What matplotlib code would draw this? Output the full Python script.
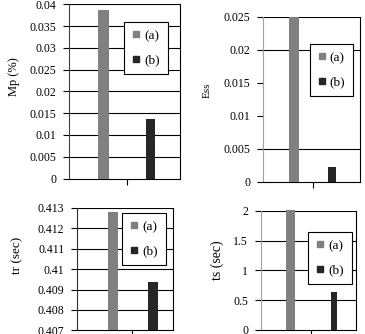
import matplotlib.pyplot as plt
from matplotlib.lines import Line2D
from matplotlib.ticker import FormatStrFormatter

plt.rcParams['font.family'] = ['Liberation Serif', 'DejaVu Serif']
plt.rcParams['font.size'] = 8.5

W, H = 365, 334

# values: series (a) and (b) for each measure
series = ['(a)', '(b)']
colors = ['#808080', '#262626']
mp = [0.0387, 0.0137]
ess = [0.0250, 0.0022]
tr = [0.41282, 0.40939]
ts = [2.02, 0.64]

mp_ticks = [0, 0.005, 0.01, 0.015, 0.02, 0.025, 0.03, 0.035, 0.04]
ess_ticks = [0, 0.005, 0.01, 0.015, 0.02, 0.025]
tr_ticks = [0.407, 0.408, 0.409, 0.41, 0.411, 0.412, 0.413]
ts_ticks = [0, 0.5, 1, 1.5, 2]

fig = plt.figure(figsize=(W / 100, H / 100), dpi=100)


def px_axes(l, t, r, b):
    return fig.add_axes([l / W, 1 - b / H, (r - l) / W, (b - t) / H])


# rect (px), bar x positions, bar widths, right x limit, legend box centre,
# y-label centre and size, gridline values, left spine colour
panels = [
    dict(vals=mp, ticks=mp_ticks, label='Mp (%)', rect=(69, 4.3, 180, 178.5),
         xs=(0.59, 1.40), ws=(0.19, 0.16), xmax=1.90,
         leg=(146, 48), lab=(13.5, 77), labsize=9, grid=mp_ticks[1:],
         spine='#404040'),
    dict(vals=ess, ticks=ess_ticks, label='Ess', rect=(263, 16.7, 360, 181.7),
         xs=(0.62, 1.37), ws=(0.20, 0.155), xmax=1.93,
         leg=(331.5, 70), lab=(207, 90), labsize=8, grid=[0.005, 0.02, 0.025],
         spine='#a0a0a0'),
    dict(vals=tr, ticks=tr_ticks, label='tr (sec)', rect=(76.7, 208, 173.3, 330.4),
         xs=(0.65, 1.37), ws=(0.18, 0.18), xmax=1.74,
         leg=(144, 239), lab=(17, 255), labsize=9.5, grid=tr_ticks[1:],
         spine='#303030'),
    dict(vals=ts, ticks=ts_ticks, label='ts (sec)', rect=(260.7, 210.7, 356, 330),
         xs=(0.59, 1.45), ws=(0.185, 0.12), xmax=1.895,
         leg=(330, 258), lab=(217, 260), labsize=10, grid=ts_ticks[1:],
         spine='#a0a0a0'),
]

for p in panels:
    ax = px_axes(*p['rect'])
    ax.set_xlim(0, p['xmax'])
    ax.set_ylim(p['ticks'][0], p['ticks'][-1])
    for x, w, v, c in zip(p['xs'], p['ws'], p['vals'], colors):
        ax.bar(x, v - p['ticks'][0], width=w, bottom=p['ticks'][0], color=c,
               zorder=3, clip_on=False)
    for g in p['grid']:
        ax.axhline(g, color='black', lw=0.8, zorder=1)
    ax.set_yticks(p['ticks'])
    ax.yaxis.set_major_formatter(FormatStrFormatter('%g'))
    ax.set_xticks([1])
    ax.set_xticklabels([])
    ax.tick_params(direction='out', length=4, width=0.8, pad=5)
    for s in ax.spines.values():
        s.set_linewidth(0.8)
        s.set_color('black')
    ax.spines['left'].set_color(p['spine'])
    ax.spines['top'].set_visible(False)

    handles = [Line2D([], [], ls='none', marker='s', ms=5, color=c) for c in colors]
    leg = ax.legend(handles, series, loc='center',
                    bbox_to_anchor=(p['leg'][0] / W, 1 - p['leg'][1] / H),
                    bbox_transform=fig.transFigure, fontsize=9.5,
                    handlelength=0.6, handletextpad=0.3, labelspacing=0.9,
                    borderpad=0.6, fancybox=False, framealpha=1,
                    borderaxespad=0)
    leg.get_frame().set_edgecolor('black')
    leg.get_frame().set_linewidth(0.8)
    leg.set_zorder(5)

    fig.text(p['lab'][0] / W, 1 - p['lab'][1] / H, p['label'], rotation=90,
             ha='center', va='center', fontsize=p['labsize'])

fig.savefig('out.png', dpi=100)
